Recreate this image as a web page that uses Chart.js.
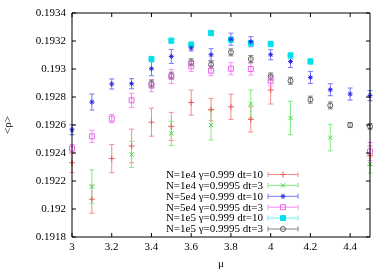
<!DOCTYPE html>
<html>
<head>
<meta charset="utf-8">
<script src="https://cdn.jsdelivr.net/npm/chart.js"></script>
<style>
  html, body { margin: 0; padding: 0; background: #fff; }
  #wrap { width: 390px; height: 273px; }
</style>
</head>
<body>
<div id="wrap"><canvas id="chart" width="390" height="273"></canvas></div>
<script>
// Data
const mu = [3.0, 3.1, 3.2, 3.3, 3.4, 3.5, 3.6, 3.7, 3.8, 3.9, 4.0, 4.1, 4.2, 4.3, 4.4, 4.5];

const xTicks = [3, 3.2, 3.4, 3.6, 3.8, 4, 4.2, 4.4];
const xTickLabels = ['3', '3.2', '3.4', '3.6', '3.8', '4', '4.2', '4.4'];
const yTicks = [0.1918, 0.192, 0.1922, 0.1924, 0.1926, 0.1928, 0.193, 0.1932, 0.1934];
const yTickLabels = ['0.1918', '0.192', '0.1922', '0.1924', '0.1926', '0.1928', '0.193', '0.1932', '0.1934'];

const seriesLabels = [
    'N=1e4 \u03b3=0.999 dt=10',
    'N=1e4 \u03b3=0.9995 dt=3',
    'N=5e4 \u03b3=0.999 dt=10',
    'N=5e4 \u03b3=0.9995 dt=3',
    'N=1e5 \u03b3=0.999 dt=10',
    'N=1e5 \u03b3=0.9995 dt=3'
];

// N=1e4 gamma=0.999 dt=10
const rho1e4a = [0.19233, 0.19207, 0.19236, 0.19245, 0.19262, 0.19259, 0.19276, 0.19271, 0.19273, 0.19264, 0.19285, null, null, null, null, 0.19238];
const err1e4a = [0.00007, 0.0001, 0.0001, 0.00012, 0.0001, 0.0001, 0.00009, 0.00008, 0.00009, 0.00009, 0.0001, null, null, null, null, 0.00007];
// N=1e4 gamma=0.9995 dt=3
const rho1e4b = [null, 0.19216, null, 0.19239, null, 0.19254, null, 0.19260, null, 0.19275, null, 0.19265, null, 0.19251, null, 0.19232];
const err1e4b = [null, 0.00012, null, 0.000093, null, 0.000086, null, 0.000107, null, 0.0001, null, 0.00012, null, 0.000095, null, 0.000064];
// N=5e4 gamma=0.999 dt=10
const rho5e4a = [0.192566, 0.192764, 0.192893, 0.192895, 0.193002, 0.19309, 0.19315, 0.193102, 0.193213, 0.193195, 0.193102, 0.193054, 0.19294, 0.192852, 0.192821, 0.19281];
const err5e4a = [0.000036, 0.000057, 0.000036, 0.000036, 0.00005, 0.00005, 0.000021, 0.000043, 0.000043, 0.000036, 0.000036, 0.000043, 0.000043, 0.000043, 0.000043, 0.000036];
// N=5e4 gamma=0.9995 dt=3
const rho5e4b = [0.192431, 0.192519, 0.192645, 0.192776, 0.192881, 0.192947, 0.193019, 0.192988, 0.193002, 0.193, 0.192916, null, null, null, null, 0.192411];
const err5e4b = [0.000029, 0.000043, 0.000029, 0.00005, 0.000043, 0.00005, 0.000036, 0.000036, 0.000043, 0.000043, 0.000036, null, null, null, null, 0.000064];
// N=1e5 gamma=0.999 dt=10
const rho1e5a = [null, null, null, null, 0.193071, 0.193202, 0.193174, 0.193257, 0.193209, 0.193184, 0.193179, 0.193097, 0.193054, null, null, null];
const err1e5a = [null, null, null, null, 0.00002, 0.00002, 0.00002, 0.00002, 0.00002, 0.00002, 0.00002, 0.00002, 0.00002, null, null, null];
// N=1e5 gamma=0.9995 dt=3
const rho1e5b = [null, null, null, null, 0.192895, 0.192952, 0.193048, 0.193031, 0.193119, 0.193071, 0.192947, 0.192916, 0.192781, 0.19274, 0.1926, 0.19259];
const err1e5b = [null, null, null, null, 0.000025, 0.000025, 0.000025, 0.000025, 0.000025, 0.000025, 0.000025, 0.000025, 0.000025, 0.000025, 0.000018, 0.00002];

function points(vals, errs) {
    return mu.map((x, i) => ({ x: x, y: vals[i], err: errs[i] })).filter(p => p.y !== null);
}

const serif = '"Liberation Serif", "Times New Roman", serif';
Chart.defaults.font.family = serif;
Chart.defaults.font.size = 11;
Chart.defaults.color = '#000';

function series(i, vals, errs, style) {
    return Object.assign({
        label: seriesLabels[i],
        data: points(vals, errs),
        showLine: false,
        clip: false,
        borderWidth: 1,
        pointBorderWidth: 1,
        pointHoverRadius: 3
    }, style);
}

const datasets = [
    series(0, rho1e4a, err1e4a, { pointStyle: 'cross', pointRadius: 3, borderColor: 'rgb(235,90,90)', backgroundColor: 'rgb(235,90,90)', barColor: 'rgb(245,140,140)' }),
    series(1, rho1e4b, err1e4b, { pointStyle: 'crossRot', pointRadius: 3, borderColor: 'rgb(70,215,70)', backgroundColor: 'rgb(70,215,70)', barColor: 'rgb(130,235,130)' }),
    series(2, rho5e4a, err5e4a, { pointStyle: 'star', pointRadius: 2.5, borderColor: 'rgb(40,40,230)', backgroundColor: 'rgb(40,40,230)', barColor: 'rgb(120,120,245)' }),
    series(3, rho5e4b, err5e4b, { pointStyle: 'rect', pointRadius: 3.5, borderColor: 'rgb(235,100,235)', backgroundColor: 'rgba(255,255,255,0)', barColor: 'rgb(245,140,245)' }),
    series(4, rho1e5a, err1e5a, { pointStyle: 'rect', pointRadius: 3.5, borderColor: 'rgb(0,225,235)', backgroundColor: 'rgb(0,225,235)', barColor: 'rgb(110,240,245)' }),
    series(5, rho1e5b, err1e5b, { pointStyle: 'circle', pointRadius: 2.5, borderColor: 'rgb(90,90,90)', backgroundColor: 'rgba(255,255,255,0)', barColor: 'rgb(130,130,130)' })
];

// vertical error bars, drawn under the markers
const errorBars = {
    id: 'errorBars',
    beforeDatasetsDraw(chart) {
        const { ctx, scales: { x, y } } = chart;
        chart.data.datasets.forEach((ds) => {
            ctx.save();
            ctx.strokeStyle = ds.barColor;
            ctx.lineWidth = 1;
            ds.data.forEach(p => {
                const px = x.getPixelForValue(p.x);
                const top = y.getPixelForValue(p.y + p.err);
                const bot = y.getPixelForValue(p.y - p.err);
                ctx.beginPath();
                ctx.moveTo(px, top); ctx.lineTo(px, bot);
                ctx.moveTo(px - 2.5, top); ctx.lineTo(px + 2.5, top);
                ctx.moveTo(px - 2.5, bot); ctx.lineTo(px + 2.5, bot);
                ctx.stroke();
            });
            ctx.restore();
        });
    }
};

// gnuplot style frame with inward ticks on all sides, plus the key
const frameAndKey = {
    id: 'frameAndKey',
    afterDraw(chart) {
        const { ctx, chartArea: a, scales: { x, y } } = chart;
        ctx.save();
        ctx.strokeStyle = '#000';
        ctx.lineWidth = 1;
        ctx.beginPath();
        ctx.rect(a.left, a.top, a.right - a.left, a.bottom - a.top);
        xTicks.forEach(v => {
            const px = x.getPixelForValue(v);
            ctx.moveTo(px, a.bottom); ctx.lineTo(px, a.bottom - 4);
            ctx.moveTo(px, a.top); ctx.lineTo(px, a.top + 4);
        });
        yTicks.forEach(v => {
            const py = y.getPixelForValue(v);
            ctx.moveTo(a.left, py); ctx.lineTo(a.left + 4, py);
            ctx.moveTo(a.right, py); ctx.lineTo(a.right - 4, py);
        });
        ctx.stroke();

        // key
        const textRight = 263, lineL = 268, lineR = 298, rowTop = 174.5, rowStep = 10.9;
        ctx.font = '11px ' + serif;
        ctx.textAlign = 'right';
        ctx.textBaseline = 'middle';
        chart.data.datasets.forEach((ds, i) => {
            const ry = rowTop + i * rowStep;
            ctx.fillStyle = '#000';
            ctx.fillText(ds.label, textRight, ry + 0.5);
            ctx.strokeStyle = ds.barColor;
            ctx.beginPath();
            ctx.moveTo(lineL, ry); ctx.lineTo(lineR, ry);
            ctx.moveTo(lineL, ry - 2.5); ctx.lineTo(lineL, ry + 2.5);
            ctx.moveTo(lineR, ry - 2.5); ctx.lineTo(lineR, ry + 2.5);
            ctx.stroke();
            ctx.strokeStyle = ds.borderColor;
            ctx.fillStyle = ds.backgroundColor;
            Chart.helpers.drawPoint(ctx, {
                pointStyle: ds.pointStyle,
                radius: ds.pointRadius,
                borderWidth: 1,
                rotation: 0
            }, (lineL + lineR) / 2, ry);
        });
        ctx.restore();
    }
};

new Chart(document.getElementById('chart'), {
    type: 'scatter',
    data: { datasets: datasets },
    plugins: [errorBars, frameAndKey],
    options: {
        responsive: false,
        animation: false,
        events: [],
        layout: { padding: { left: 0, right: 20, top: 13, bottom: 0 } },
        plugins: {
            legend: { display: false },
            tooltip: { enabled: false }
        },
        scales: {
            x: {
                type: 'linear',
                min: 3,
                max: 4.5,
                grid: { display: false, drawTicks: false },
                border: { display: false },
                afterBuildTicks: (scale) => { scale.ticks = xTicks.map(v => ({ value: v })); },
                afterFit: (scale) => { scale.height = 36; },
                ticks: {
                    padding: 4,
                    maxRotation: 0,
                    autoSkip: false,
                    callback: (v, i) => xTickLabels[i]
                },
                title: { display: true, text: '\u03bc', padding: { top: 0, bottom: 2 } }
            },
            y: {
                type: 'linear',
                min: 0.1918,
                max: 0.1934,
                grid: { display: false, drawTicks: false },
                border: { display: false },
                afterBuildTicks: (scale) => { scale.ticks = yTicks.map(v => ({ value: v })); },
                afterFit: (scale) => { scale.width = 72; },
                ticks: {
                    padding: 6,
                    autoSkip: false,
                    callback: (v, i) => yTickLabels[i]
                },
                title: { display: true, text: '<\u03c1>', padding: { top: 2, bottom: 0 } }
            }
        }
    }
});
</script>
</body>
</html>
